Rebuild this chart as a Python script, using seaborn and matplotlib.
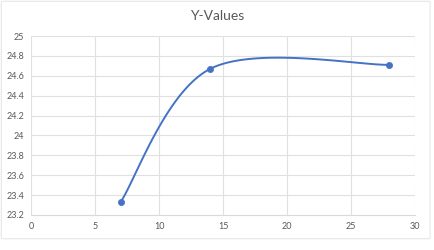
import numpy as np
import pandas as pd
import matplotlib
matplotlib.use("Agg")
import matplotlib.pyplot as plt
from matplotlib.patches import FancyBboxPatch
import seaborn as sns

X_VALUES = [7, 14, 28]
Y_VALUES = [23.33, 24.67, 24.71]
X_TICKS = [0, 5, 10, 15, 20, 25, 30]
Y_TICKS = [23.2, 23.4, 23.6, 23.8, 24, 24.2, 24.4, 24.6, 24.8, 25]
TITLE = "Y-Values"

LINE_COLOR = "#4472C4"
GRID_COLOR = "#E0E0E0"
TEXT_COLOR = "#595959"


def smooth_curve(xs, ys, n=60):
    # Excel-style smoothed line: cubic Bezier segments with Catmull-Rom controls
    pts = np.column_stack([xs, ys]).astype(float)
    padded = np.vstack([pts[0], pts, pts[-1]])
    out = []
    t = np.linspace(0, 1, n)[:, None]
    for i in range(len(pts) - 1):
        p0, p1, p2, p3 = padded[i], padded[i + 1], padded[i + 2], padded[i + 3]
        c1 = p1 + (p2 - p0) / 6
        c2 = p2 - (p3 - p1) / 6
        seg = ((1 - t) ** 3) * p1 + 3 * ((1 - t) ** 2) * t * c1 \
            + 3 * (1 - t) * t ** 2 * c2 + t ** 3 * p2
        out.append(seg if i == 0 else seg[1:])
    curve = np.vstack(out)
    return pd.DataFrame({"x": curve[:, 0], "y": curve[:, 1]})


def main():
    sns.set_theme(style="white")
    plt.rcParams["font.family"] = ["Lato", "DejaVu Sans"]

    fig = plt.figure(figsize=(4.34, 2.5), dpi=100)
    fig.patches.append(
        FancyBboxPatch(
            (0.003, 0.045), 0.988, 0.95, boxstyle="round,pad=0,rounding_size=0.005",
            transform=fig.transFigure, facecolor="none", edgecolor="#E6E6E6",
            linewidth=0.8, zorder=-1,
        )
    )
    ax = fig.add_axes([0.0714, 0.14, 0.885, 0.716])
    ax.set_facecolor("none")

    points = pd.DataFrame({"x": X_VALUES, "y": Y_VALUES})
    curve = smooth_curve(X_VALUES, Y_VALUES)

    sns.lineplot(data=curve, x="x", y="y", sort=False, estimator=None,
                 color=LINE_COLOR, linewidth=1.4, ax=ax, zorder=3)
    sns.scatterplot(data=points, x="x", y="y", color=LINE_COLOR, s=20,
                    edgecolor=LINE_COLOR, linewidth=0.5, ax=ax, zorder=4)

    ax.set_xlim(0, 30)
    ax.set_ylim(23.2, 25)
    ax.set_xticks(X_TICKS)
    ax.set_yticks(Y_TICKS)
    ax.set_xticklabels([str(v) for v in X_TICKS])
    ax.set_yticklabels([f"{v:g}" for v in Y_TICKS])
    ax.grid(True, color=GRID_COLOR, linewidth=0.8)
    ax.set_axisbelow(True)
    for side in ["top", "right", "left"]:
        ax.spines[side].set_visible(False)
    ax.spines["bottom"].set_color("#D9D9D9")
    ax.spines["bottom"].set_linewidth(0.8)
    ax.tick_params(axis="both", length=0, labelsize=6.5, labelcolor=TEXT_COLOR, pad=5)
    ax.set_xlabel("")
    ax.set_ylabel("")

    fig.text(0.5, 0.935, TITLE, ha="center", va="center", fontsize=10,
             color=TEXT_COLOR)

    fig.savefig("out.png", dpi=100)
    plt.close(fig)


if __name__ == "__main__":
    main()
